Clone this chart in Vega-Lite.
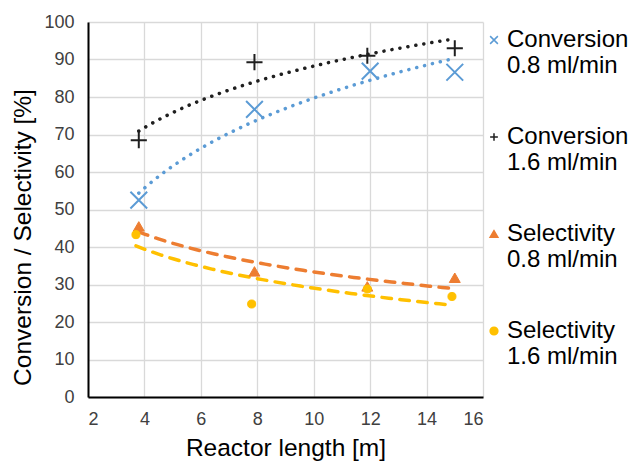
{
  "$schema": "https://vega.github.io/schema/vega-lite/v6.json",
  "width": 395,
  "height": 375,
  "autosize": "none",
  "padding": {"left": 88, "top": 22, "right": 150, "bottom": 68},
  "background": "white",
  "config": {
    "view": {"stroke": null},
    "font": "Liberation Sans",
    "axis": {
      "gridColor": "#d9d9d9",
      "gridWidth": 1.3,
      "domainColor": "#000000",
      "domainWidth": 2,
      "ticks": false,
      "labelFont": "Liberation Sans",
      "labelFontSize": 18,
      "labelColor": "#404040",
      "titleFont": "Liberation Sans",
      "titleFontSize": 24.5,
      "titleFontWeight": "normal",
      "titleColor": "#000000"
    }
  },
  "data": {
    "values": [
      {"length": 3.8, "value": 52.5, "series": "Conversion 0.8 ml/min"},
      {"length": 7.9, "value": 76.7, "series": "Conversion 0.8 ml/min"},
      {"length": 12.0, "value": 86.9, "series": "Conversion 0.8 ml/min"},
      {"length": 15.0, "value": 86.6, "series": "Conversion 0.8 ml/min"},
      {"length": 3.8, "value": 68.5, "series": "Conversion 1.6 ml/min"},
      {"length": 7.9, "value": 89.3, "series": "Conversion 1.6 ml/min"},
      {"length": 11.9, "value": 91.0, "series": "Conversion 1.6 ml/min"},
      {"length": 15.0, "value": 93.0, "series": "Conversion 1.6 ml/min"},
      {"length": 3.8, "value": 45.5, "series": "Selectivity 0.8 ml/min"},
      {"length": 7.9, "value": 33.5, "series": "Selectivity 0.8 ml/min"},
      {"length": 11.9, "value": 29.5, "series": "Selectivity 0.8 ml/min"},
      {"length": 15.0, "value": 31.8, "series": "Selectivity 0.8 ml/min"},
      {"length": 3.7, "value": 43.3, "series": "Selectivity 1.6 ml/min"},
      {"length": 7.8, "value": 24.8, "series": "Selectivity 1.6 ml/min"},
      {"length": 11.9, "value": 28.8, "series": "Selectivity 1.6 ml/min"},
      {"length": 14.9, "value": 26.8, "series": "Selectivity 1.6 ml/min"}
    ]
  },
  "encoding": {
    "x": {
      "field": "length", "type": "quantitative",
      "scale": {"domain": [2, 16], "nice": false, "zero": false},
      "axis": {"values": [2, 4, 6, 8, 10, 12, 14, 16], "title": "Reactor length [m]", "labelPadding": 13, "titlePadding": 8}
    },
    "y": {
      "field": "value", "type": "quantitative",
      "scale": {"domain": [0, 100], "nice": false},
      "axis": {"values": [0, 10, 20, 30, 40, 50, 60, 70, 80, 90, 100], "title": "Conversion / Selectivity [%]", "labelPadding": 14, "titlePadding": 8, "titleY": 215}
    }
  },
  "layer": [
    {
      "transform": [
        {"filter": "datum.series == 'Conversion 0.8 ml/min'"},
        {"regression": "value", "on": "length", "method": "log"}
      ],
      "mark": {"type": "line", "strokeWidth": 3.5, "strokeCap": "round", "color": "#5b9bd5", "strokeDash": [0.1, 8]}
    },
    {
      "transform": [
        {"filter": "datum.series == 'Conversion 1.6 ml/min'"},
        {"regression": "value", "on": "length", "method": "log"}
      ],
      "mark": {"type": "line", "strokeWidth": 3.5, "strokeCap": "round", "color": "#1f1f1f", "strokeDash": [0.1, 8]}
    },
    {
      "transform": [
        {"filter": "datum.series == 'Selectivity 0.8 ml/min'"},
        {"regression": "value", "on": "length", "method": "log"}
      ],
      "mark": {"type": "line", "strokeWidth": 3.5, "strokeCap": "round", "color": "#ed7d31", "strokeDash": [9.5, 8.5]}
    },
    {
      "transform": [
        {"filter": "datum.series == 'Selectivity 1.6 ml/min'"},
        {"regression": "value", "on": "length", "method": "log"}
      ],
      "mark": {"type": "line", "strokeWidth": 3.5, "strokeCap": "round", "color": "#ffc000", "strokeDash": [9.5, 8.5]}
    },
    {
      "encoding": {
        "color": {
          "field": "series", "type": "nominal",
          "scale": {
            "domain": ["Conversion 0.8 ml/min", "Conversion 1.6 ml/min", "Selectivity 0.8 ml/min", "Selectivity 1.6 ml/min"],
            "range": ["#5b9bd5", "#1f1f1f", "#ed7d31", "#ffc000"]
          },
          "legend": {
            "title": null,
            "orient": "none",
            "legendX": 394,
            "legendY": 6,
            "padding": 0,
            "labelFont": "Liberation Sans",
            "labelFontSize": 24,
            "labelLineHeight": 29,
            "labelColor": "#000000",
            "labelBaseline": "middle",
            "labelOffset": 1,
            "labelLimit": 200,
            "rowPadding": 47,
            "symbolSize": 60,
            "labelExpr": "[slice(datum.label, 0, indexof(datum.label, ' ')), slice(datum.label, indexof(datum.label, ' ') + 1)]",
            "encode": {
              "symbols": {
                "update": {
                  "stroke": {"scale": "color", "field": "value"},
                  "strokeWidth": {"value": 1.5},
                  "opacity": {"value": 1}
                }
              },
              "labels": {
                "update": {
                  "dy": {"value": 14.5}
                }
              }
            }
          }
        },
        "stroke": {
          "field": "series", "type": "nominal",
          "scale": {
            "domain": ["Conversion 0.8 ml/min", "Conversion 1.6 ml/min", "Selectivity 0.8 ml/min", "Selectivity 1.6 ml/min"],
            "range": ["#5b9bd5", "#1f1f1f", "#ed7d31", "#ffc000"]
          }
        },
        "shape": {
          "field": "series", "type": "nominal",
          "scale": {
            "domain": ["Conversion 0.8 ml/min", "Conversion 1.6 ml/min", "Selectivity 0.8 ml/min", "Selectivity 1.6 ml/min"],
            "range": ["M-1,-1L1,1M-1,1L1,-1", "M-1,0L1,0M0,-1L0,1", "triangle-up", "circle"]
          }
        }
      },
      "layer": [
        {
          "transform": [{"filter": "datum.series == 'Conversion 0.8 ml/min'"}],
          "mark": {"type": "point", "filled": true, "strokeWidth": 2, "size": 280, "opacity": 1}
        },
        {
          "transform": [{"filter": "datum.series == 'Conversion 1.6 ml/min'"}],
          "mark": {"type": "point", "filled": true, "strokeWidth": 2, "size": 260, "opacity": 1}
        },
        {
          "transform": [{"filter": "datum.series == 'Selectivity 0.8 ml/min'"}],
          "mark": {"type": "point", "filled": true, "strokeWidth": 1, "size": 120, "opacity": 1}
        },
        {
          "transform": [{"filter": "datum.series == 'Selectivity 1.6 ml/min'"}],
          "mark": {"type": "point", "filled": true, "strokeWidth": 1, "size": 65, "opacity": 1}
        }
      ]
    }
  ]
}
